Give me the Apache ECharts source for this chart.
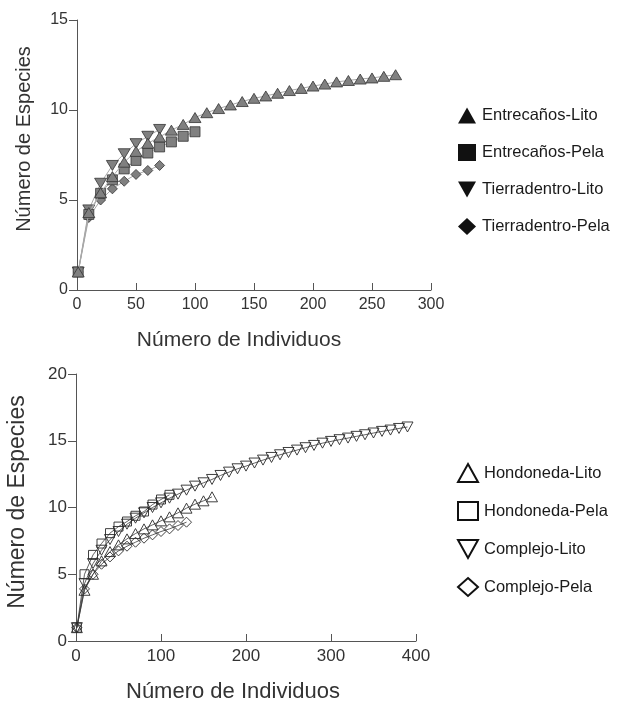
<!DOCTYPE html>
<html>
<head>
<meta charset="utf-8">
<script src="https://cdn.jsdelivr.net/npm/echarts@6/dist/echarts.min.js"></script>
<style>
html,body{margin:0;padding:0;background:#fff;}
#chart{width:617px;height:703px;}
</style>
</head>
<body>
<div id="chart"></div>
<script>
// ---- Top panel data ----
const entLitoX = [1,10,20,30,40,50,60,70,80,90,100,110,120,130,140,150,160,170,180,190,200,210,220,230,240,250,260,270];
const entLitoY = [1,4.3,5.4,6.3,7.1,7.7,8.15,8.5,8.88,9.2,9.58,9.85,10.08,10.28,10.47,10.65,10.78,10.93,11.08,11.2,11.33,11.44,11.56,11.64,11.72,11.78,11.87,11.96];
const entPelaX = [1,10,20,30,40,50,60,70,80,90,100];
const entPelaY = [1,4.2,5.37,6.12,6.73,7.2,7.61,7.95,8.23,8.54,8.79];
const tieLitoX = [1,10,20,30,40,50,60,70];
const tieLitoY = [1,4.45,5.93,6.92,7.57,8.13,8.54,8.92];
const tiePelaX = [1,10,20,30,40,50,60,70];
const tiePelaY = [1,4.03,5.0,5.62,6.04,6.42,6.64,6.92];
const topNames = ['Entrecaños-Lito','Entrecaños-Pela','Tierradentro-Lito','Tierradentro-Pela'];
const topXTicks = [0,50,100,150,200,250,300];
const topYTicks = [0,5,10,15];

// ---- Bottom panel data ----
const honLitoX = [1,10,20,30,40,50,60,70,80,90,100,110,120,130,140,150,160];
const honLitoY = [1,3.8,5.0,6.0,6.7,7.2,7.65,8.05,8.4,8.7,9.0,9.3,9.6,9.95,10.25,10.5,10.8];
const honPelaX = [1,10,20,30,40,50,60,70,80,90,100,110];
const honPelaY = [1,5.0,6.45,7.3,8.08,8.57,8.95,9.38,9.7,10.22,10.6,10.95];
const comLitoX = [1,10,20,30,40,50,60,70,80,90,100,110,120,130,140,150,160,170,180,190,200,210,220,230,240,250,260,270,280,290,300,310,320,330,340,350,360,370,380,390];
const comLitoY = [1,4.3,5.8,6.8,7.6,8.2,8.75,9.2,9.6,10.0,10.35,10.7,11.0,11.3,11.6,11.85,12.1,12.4,12.65,12.9,13.1,13.33,13.55,13.75,13.95,14.12,14.3,14.48,14.65,14.82,14.95,15.08,15.2,15.33,15.45,15.58,15.7,15.8,15.92,16.03];
const comPelaX = [1,10,20,30,40,50,60,70,80,90,100,110,120,130];
const comPelaY = [1,3.9,5.0,5.75,6.3,6.75,7.1,7.4,7.7,7.95,8.2,8.4,8.65,8.9];
const botNames = ['Hondoneda-Lito','Hondoneda-Pela','Complejo-Lito','Complejo-Pela'];
const botXTicks = [0,100,200,300,400];
const botYTicks = [0,5,10,15,20];

const xTitle = 'Número de Individuos';
const yTitle = 'Número de Especies';

const pairs = (xs, ys) => xs.map((x, i) => [x, ys[i]]);

const TRI_UP = 'path://M10,0L20,18L0,18Z';
const TRI_DN = 'path://M0,0L20,0L10,18Z';
const FONT = "'Liberation Sans', Arial, sans-serif";
const LEGFONT = "'Liberation Sans', Arial, sans-serif";

function axisCommon(fontSize) {
  return {
    axisLine: {show: true, lineStyle: {color: '#555', width: 1}},
    splitLine: {show: false},
    axisLabel: {color: '#333', fontSize: fontSize, fontFamily: FONT},
  };
}

const topFill = {color: '#808080', borderColor: '#333', borderWidth: 0.8};
const topLine = {color: '#a8a8a8', width: 1};
const botItem = {color: 'rgba(0,0,0,0)', borderColor: '#2a2a2a', borderWidth: 0.9};
const botLine = {color: '#3a3a3a', width: 0.8};

const topSeriesDefs = [
  {x: entLitoX, y: entLitoY, symbol: TRI_UP, size: [12, 10]},
  {x: entPelaX, y: entPelaY, symbol: 'rect', size: 10},
  {x: tieLitoX, y: tieLitoY, symbol: TRI_DN, size: [12, 10]},
  {x: tiePelaX, y: tiePelaY, symbol: 'diamond', size: 10},
];
const botSeriesDefs = [
  {x: honLitoX, y: honLitoY, symbol: TRI_UP, size: [11, 10]},
  {x: honPelaX, y: honPelaY, symbol: 'rect', size: 9},
  {x: comLitoX, y: comLitoY, symbol: TRI_DN, size: [11, 10]},
  {x: comPelaX, y: comPelaY, symbol: 'diamond', size: 10},
];
const legendIcons = [TRI_UP, 'rect', TRI_DN, 'diamond'];

const series = [];
topSeriesDefs.forEach((d, i) => {
  series.push({
    name: topNames[i], type: 'line', xAxisIndex: 0, yAxisIndex: 0,
    data: pairs(d.x, d.y), symbol: d.symbol, symbolSize: d.size, showSymbol: true,
    lineStyle: topLine, itemStyle: topFill, z: 2 + (3 - i)
  });
});
botSeriesDefs.forEach((d, i) => {
  series.push({
    name: botNames[i], type: 'line', xAxisIndex: 1, yAxisIndex: 1,
    data: pairs(d.x, d.y), symbol: d.symbol, symbolSize: d.size, showSymbol: true,
    lineStyle: botLine, itemStyle: botItem
  });
});

const chart = echarts.init(document.getElementById('chart'), null, {renderer: 'canvas'});
chart.setOption({
  animation: false,
  backgroundColor: '#fff',
  grid: [
    {left: 77, top: 20, width: 354, height: 270},
    {left: 76, top: 374, width: 340, height: 267}
  ],
  xAxis: [
    Object.assign(axisCommon(16), {
      type: 'value', gridIndex: 0, min: topXTicks[0], max: topXTicks[topXTicks.length - 1], interval: 50,
      axisTick: {show: true, inside: true, length: 7, lineStyle: {color: '#555'}},
      axisLabel: {color: '#333', fontSize: 16, fontFamily: FONT, margin: 7}
    }),
    Object.assign(axisCommon(17), {
      type: 'value', gridIndex: 1, min: botXTicks[0], max: botXTicks[botXTicks.length - 1], interval: 100,
      axisTick: {show: true, inside: true, length: 7, lineStyle: {color: '#555'}},
      axisLabel: {color: '#333', fontSize: 17, fontFamily: FONT, margin: 7}
    })
  ],
  yAxis: [
    Object.assign(axisCommon(16), {
      type: 'value', gridIndex: 0, min: topYTicks[0], max: topYTicks[topYTicks.length - 1], interval: 5,
      axisTick: {show: true, inside: false, length: 8, lineStyle: {color: '#555'}},
      axisLabel: {color: '#333', fontSize: 16, fontFamily: FONT, margin: 9}
    }),
    Object.assign(axisCommon(17), {
      type: 'value', gridIndex: 1, min: botYTicks[0], max: botYTicks[botYTicks.length - 1], interval: 5,
      axisTick: {show: true, inside: false, length: 8, lineStyle: {color: '#555'}},
      axisLabel: {color: '#333', fontSize: 17, fontFamily: FONT, margin: 9}
    })
  ],
  legend: [
    {
      orient: 'vertical', left: 453, top: 102, itemWidth: 18, itemHeight: 17, itemGap: 20,
      selectedMode: false,
      textStyle: {color: '#1a1a1a', fontSize: 16.5, fontFamily: LEGFONT, lineHeight: 17, padding: [0, 0, 0, 1]},
      data: topNames.map((n, i) => ({name: n, icon: legendIcons[i], itemStyle: {color: '#111', borderWidth: 0}}))
    },
    {
      orient: 'vertical', left: 452, top: 458, itemWidth: 20, itemHeight: 18, itemGap: 18,
      selectedMode: false,
      textStyle: {color: '#1a1a1a', fontSize: 16.5, fontFamily: LEGFONT, lineHeight: 18, padding: [0, 0, 0, 1]},
      data: botNames.map((n, i) => ({name: n, icon: legendIcons[i], itemStyle: {color: 'rgba(0,0,0,0)', borderColor: '#111', borderWidth: 2}}))
    }
  ],
  graphic: [
    {type: 'text', x: 239, y: 340, style: {text: xTitle, x: 0, y: 0, align: 'center', verticalAlign: 'middle', font: "21px " + FONT, fill: '#333'}},
    {type: 'text', x: 233, y: 692, style: {text: xTitle, x: 0, y: 0, align: 'center', verticalAlign: 'middle', font: "22px " + FONT, fill: '#333'}},
    {type: 'text', x: 24, y: 139, rotation: Math.PI / 2, style: {text: yTitle, x: 0, y: 0, align: 'center', verticalAlign: 'middle', font: "20px " + FONT, fill: '#333'}},
    {type: 'text', x: 18, y: 502, rotation: Math.PI / 2, style: {text: yTitle, x: 0, y: 0, align: 'center', verticalAlign: 'middle', font: "23px " + FONT, fill: '#333'}}
  ],
  series: series
});
</script>
</body>
</html>
